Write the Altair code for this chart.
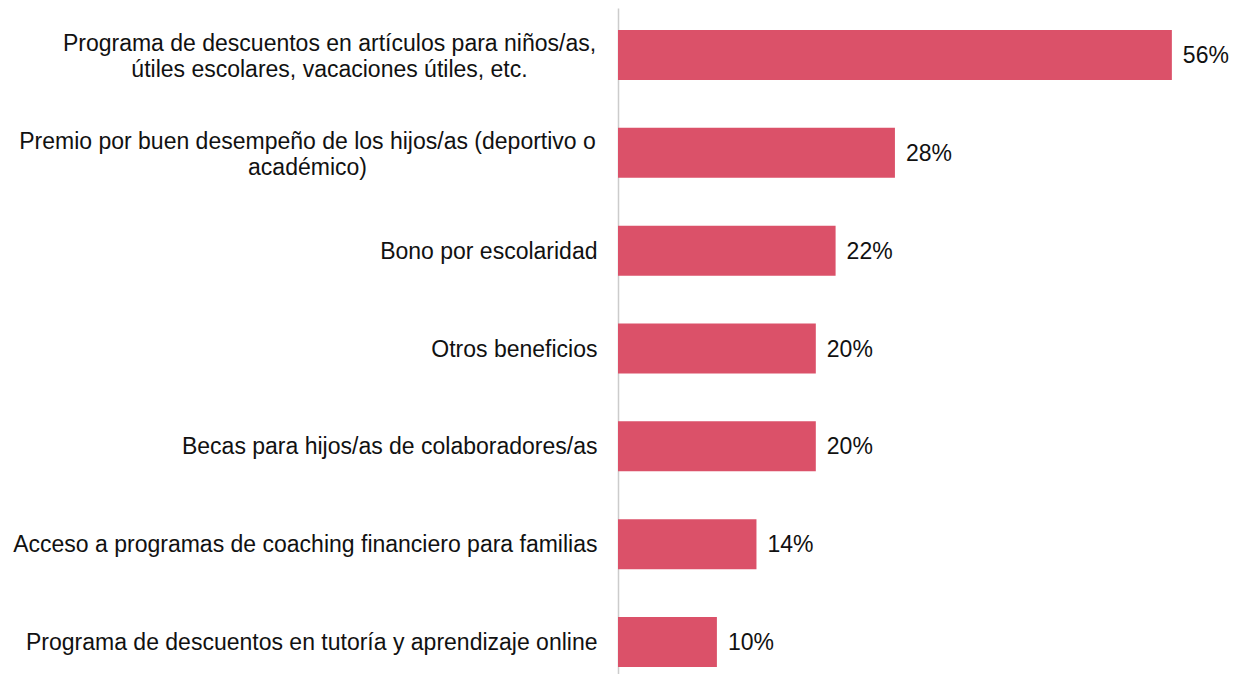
import altair as alt
import pandas as pd

categories = [
    "Programa de descuentos en artículos para niños/as,\nútiles escolares, vacaciones útiles, etc.",
    "Premio por buen desempeño de los hijos/as (deportivo o\nacadémico)",
    "Bono por escolaridad",
    "Otros beneficios",
    "Becas para hijos/as de colaboradores/as",
    "Acceso a programas de coaching financiero para familias",
    "Programa de descuentos en tutoría y aprendizaje online",
]
values = [56, 28, 22, 20, 20, 14, 10]
value_labels = [f"{v}%" for v in values]

df = pd.DataFrame({"cat": categories, "val": values, "lab": value_labels})

FONT = "Liberation Sans"
TEXT_COLOR = "#111111"
BAR_COLOR = "#DB5169"

y_enc = alt.Y(
    "cat:N",
    sort=categories,
    title=None,
    scale=alt.Scale(paddingInner=0.489, paddingOuter=0.148, align=0.759),
    axis=alt.Axis(
        labelExpr="split(datum.label, '\\n')",
        labelFont=FONT,
        labelFontSize=23,
        labelColor=TEXT_COLOR,
        labelLineHeight=26,
        labelLimit=0,
        ticks=False,
        tickSize=0,
        domainColor="#cccccc",
        domainWidth=1.5,
        labelBaseline="middle",
        labelAlign={
            "condition": {"test": "indexof(datum.value, '\\n') >= 0", "value": "center"},
            "value": "right",
        },
        labelOffset={
            "condition": {"test": "indexof(datum.value, '\\n') >= 0", "value": -11},
            "value": 1,
        },
        labelPadding={
            "condition": [
                {"test": "indexof(datum.value, 'niños/as,') >= 0", "value": 289},
                {"test": "indexof(datum.value, 'deportivo o') >= 0", "value": 311},
            ],
            "value": 21,
        },
    ),
)

x_enc = alt.X("val:Q", scale=alt.Scale(domain=[0, 62.08], nice=False, zero=True), axis=None)

base = alt.Chart(df).encode(y=y_enc, x=x_enc)

bars = base.mark_bar(color=BAR_COLOR)
text = base.mark_text(
    align="left", baseline="middle", dx=11, dy=1, font=FONT, fontSize=23, color=TEXT_COLOR
).encode(text="lab:N")

chart = (
    alt.layer(bars, text)
    .properties(
        width=614,
        height=666,
        padding={"left": 610, "right": 0, "top": 0, "bottom": 0},
        autosize="none",
        background="white",
    )
    .configure_view(strokeWidth=0)
)

chart.save("out.html", embed_options={"renderer": "svg", "actions": False})
